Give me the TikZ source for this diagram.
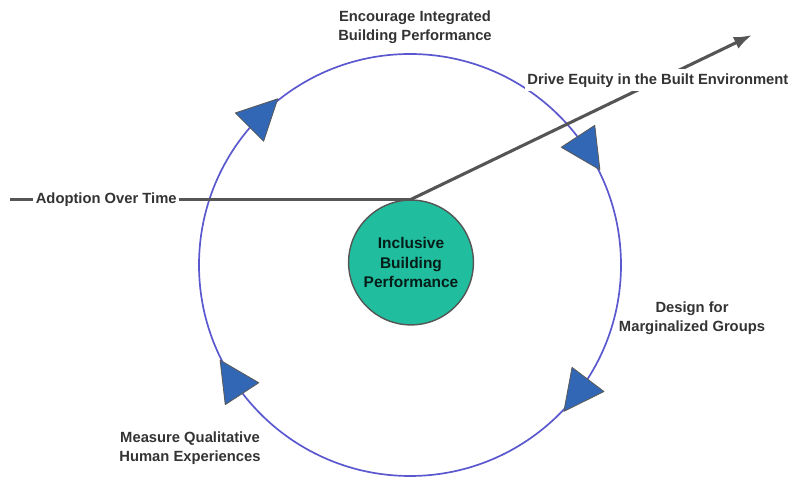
\documentclass[tikz,border=0pt]{standalone}
\usepackage{fontspec}
\setmainfont{Liberation Sans}
\usepackage{xcolor}
\usepackage{tikz}
\usetikzlibrary{arrows.meta}
\usetikzlibrary{positioning,decorations.markings}
\definecolor{ringblue}{RGB}{90,88,206}
\definecolor{tipblue}{RGB}{50,103,181}
\definecolor{coreteal}{RGB}{32,190,158}
\definecolor{linegray}{RGB}{85,85,85}
\colorlet{labelgray}{black!80}
\colorlet{coretext}{black!75!coreteal!60!black}
% one flow triangle, drawn along the ring direction
\newcommand{\flowtip}{\draw[FlowTip] (24,0) -- (-16,20) -- (-16,-20) -- cycle;}

\begin{document}
\begin{tikzpicture}[
x=0.025cm, y=0.025cm,
Labels/.style={font=\fontsize{10.5}{13.5}\selectfont\bfseries, text=labelgray, align=center, inner sep=1pt},
OnLine/.style={Labels, fill=white, inner xsep=2pt, inner ysep=3pt},
Core/.style={circle, draw=linegray, line width=1pt, fill=coreteal, minimum size=3.12cm, inner sep=0pt,
  align=center, text=coretext, font=\fontsize{11}{13.8}\selectfont\bfseries},
Axis/.style={draw=linegray, line width=2.2pt},
FlowTip/.style={fill=tipblue, draw=black!65, line width=0.6pt, line join=round},
Ring/.style={draw=ringblue, line width=1.2pt, postaction={decorate},
  decoration={markings,
    mark=at position 0.125 with {\flowtip},
    mark=at position 0.408 with {\flowtip},
    mark=at position 0.603 with {\flowtip},
    mark=at position 0.908 with {\flowtip}}}
]
\useasboundingbox (0,0) rectangle (801,477);

% ring, running clockwise from the left
\coordinate (hub) at (410,212);
\draw[Ring] (hub) ++(180:211) arc[start angle=180, end angle=-180, radius=211];

% centre
\node[Core] (core) at (411,214.5) {Inclusive\\Building\\Performance};

% time axis and equity direction
\coordinate (origin) at (10,0);
\coordinate (equityend) at (752,442);
\draw[Axis] (core.north -| origin) -- (core.north) node[OnLine, pos=0.24] (adopt) {Adoption Over Time};
\draw[Axis, -{Latex[length=4.5mm, width=3.2mm]}] (core.north) -- (equityend)
  node[OnLine, pos=0.724] (equity) {Drive Equity in the Built Environment};

% stages round the ring
\node[Labels] (integrate) at (415,450) {Encourage Integrated\\Building Performance};
\node[Labels] (marginal) at (692,159) {Design for\\Marginalized Groups};
\node[Labels] (measure) at (190,29) {Measure Qualitative\\Human Experiences};

\end{tikzpicture}
\end{document}
